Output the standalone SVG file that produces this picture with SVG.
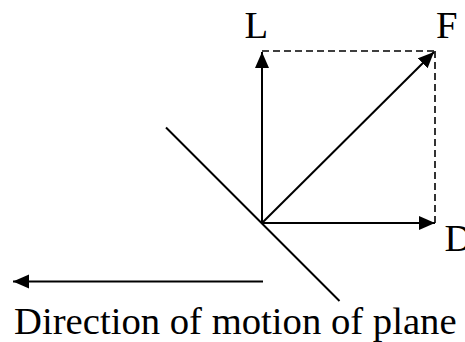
<svg xmlns="http://www.w3.org/2000/svg" width="465" height="342" viewBox="0 0 465 342">
<style>
.ln{stroke:#000;stroke-width:2;fill:none}
.ds{stroke:#000;stroke-width:1.6;fill:none;stroke-dasharray:7 4}
.tx{font-family:"Liberation Serif","Times New Roman",serif;font-size:38.7px;fill:#000}
</style>
<defs>
<marker id="ah" markerUnits="userSpaceOnUse" markerWidth="17" markerHeight="15" refX="16" refY="7" orient="auto" viewBox="0 0 17 15">
<path d="M0,0 L16,7 L0,14 z" fill="#000"/>
</marker>
</defs>
<rect width="465" height="342" fill="#fff"/>
<g id="connectors">
<line class="ds" x1="262" y1="51" x2="435" y2="51"/>
<line class="ds" x1="435" y1="51" x2="435" y2="223"/>
<line class="ln" x1="262" y1="223" x2="262" y2="52" marker-end="url(#ah)"/>
<line class="ln" x1="262" y1="223" x2="434" y2="52" marker-end="url(#ah)"/>
<line class="ln" x1="262" y1="223" x2="435" y2="223" marker-end="url(#ah)"/>
<line class="ln" x1="166" y1="127.5" x2="339.5" y2="301"/>
<line class="ln" x1="263" y1="281.5" x2="13" y2="281.5" marker-end="url(#ah)"/>
</g>
<g id="label-L"><text class="tx" x="244.5" y="37.7">L</text></g>
<g id="label-F"><text class="tx" x="436" y="37.7">F</text></g>
<g id="label-D"><text class="tx" x="444.5" y="251">D</text></g>
<g id="caption"><text class="tx" x="14" y="334">Direction of motion of plane</text></g>
</svg>
